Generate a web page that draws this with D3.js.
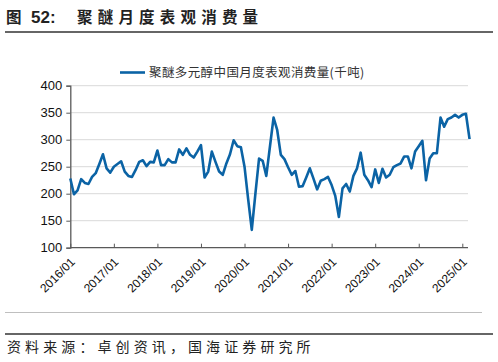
<!DOCTYPE html>
<html>
<head>
<meta charset="utf-8">
<script src="https://cdn.jsdelivr.net/npm/d3@7/dist/d3.min.js"></script>
<style>
  body { margin: 0; background: #fff; }
  svg { display: block; }
</style>
</head>
<body>
<svg width="498" height="362"></svg>
<script>
// monthly apparent consumption of polyether polyol, 2016/01 .. 2025/03 (kt)
var consumption = [
  228, 199, 206, 227, 220, 218, 231, 238, 255, 273, 247, 239,
  250, 255, 260, 241, 233, 231, 244, 259, 262, 251, 259, 258,
  280, 253, 253, 264, 258, 258, 282, 272, 284, 272, 267, 278,
  290, 230, 241, 278, 259, 241, 235, 256, 273, 299, 288, 286,
  250, 190, 133, 200, 265, 261, 233, 287, 341, 318, 272, 264,
  249, 235, 242, 213, 214, 230, 247, 228, 208, 224, 227, 231,
  216, 196, 157, 210, 218, 204, 233, 247, 276, 235, 225, 212,
  245, 220, 246, 230, 235, 249, 253, 256, 269, 269, 247, 278,
  288, 298, 225, 265, 275, 275, 341, 324, 338, 341, 346, 341,
  346, 348, 301
];
var yearLabels = ["2016/01", "2017/01", "2018/01", "2019/01", "2020/01",
                  "2021/01", "2022/01", "2023/01", "2024/01", "2025/01"];
var yTicks = [100, 150, 200, 250, 300, 350, 400];

var seriesName = "聚醚多元醇中国月度表观消费量(千吨)";
var titleText = "聚醚月度表观消费量";
var sourceText = "资料来源：卓创资讯，国海证券研究所";

var svg = d3.select("svg");
var blue = "#0b63a5";
var cjk = "'Noto Sans CJK SC', 'Liberation Sans', sans-serif";

var x = d3.scaleLinear().domain([0, 108]).range([70.3, 462.3]);
var y = d3.scaleLinear().domain([100, 400]).range([247.7, 85.7]);

// title
var title = svg.append("text")
  .attr("y", 23)
  .attr("font-family", cjk)
  .attr("font-weight", "bold")
  .attr("font-size", "15.5px")
  .attr("fill", "#222");
title.append("tspan").attr("x", 6).text("图");
title.append("tspan").attr("x", 31).attr("font-family", "'Liberation Sans', Arial, sans-serif")
  .attr("font-size", "17px").text("52:");
title.append("tspan").attr("x", 77).attr("letter-spacing", "5.2px").text(titleText);

svg.append("line").attr("x1", 5).attr("x2", 493).attr("y1", 32).attr("y2", 32)
  .attr("stroke", "#333").attr("stroke-width", 1.5);

// gridlines
svg.append("g").selectAll("line")
  .data(yTicks.slice(1))
  .enter().append("line")
  .attr("x1", x(0)).attr("x2", 468)
  .attr("y1", function(d) { return y(d); })
  .attr("y2", function(d) { return y(d); })
  .attr("stroke", "#d9d9d9").attr("stroke-width", 1);

// y axis
var yAxis = svg.append("g")
  .attr("transform", "translate(" + x(0) + ",0)")
  .call(d3.axisLeft(y).tickValues(yTicks).tickSize(4).tickPadding(4));
yAxis.select(".domain").attr("stroke", "#595959").attr("stroke-width", 1.3);
yAxis.selectAll(".tick line").attr("stroke", "#595959");
yAxis.selectAll("text")
  .attr("font-family", "'Liberation Sans', Arial, sans-serif")
  .attr("font-size", "13px")
  .attr("fill", "#111");

// x axis
var xAxis = svg.append("g")
  .attr("transform", "translate(0," + y(100) + ")")
  .call(d3.axisBottom(x)
    .tickValues(d3.range(0, 109, 12))
    .tickFormat(function(d) { return yearLabels[d / 12]; })
    .tickSizeInner(-4).tickSizeOuter(0));
xAxis.select(".domain").attr("d", "M" + x(0) + ",0H468")
  .attr("stroke", "#595959").attr("stroke-width", 1.3);
xAxis.selectAll(".tick line").attr("stroke", "#595959");
xAxis.selectAll("text")
  .attr("font-family", "'Liberation Sans', Arial, sans-serif")
  .attr("font-size", "12px")
  .attr("fill", "#111")
  .attr("text-anchor", "end")
  .attr("dy", "0.35em")
  .attr("transform", "translate(2,12) rotate(-45)")
  .attr("y", 0);

// series line
var line = d3.line()
  .x(function(d, i) { return x(i); })
  .y(function(d) { return y(d); });

svg.append("path")
  .datum(consumption)
  .attr("d", line)
  .attr("fill", "none")
  .attr("stroke", blue)
  .attr("stroke-width", 2.6)
  .attr("stroke-linejoin", "round");

// legend
svg.append("line").attr("x1", 120).attr("x2", 145).attr("y1", 72.5).attr("y2", 72.5)
  .attr("stroke", blue).attr("stroke-width", 2.6);
svg.append("text")
  .attr("x", 149).attr("y", 77)
  .attr("font-family", cjk)
  .attr("font-size", "12.5px")
  .attr("letter-spacing", "0.4px")
  .attr("fill", "#333")
  .text(seriesName);

// footer
svg.append("line").attr("x1", 5).attr("x2", 482).attr("y1", 312.5).attr("y2", 312.5)
  .attr("stroke", "#bfbfbf").attr("stroke-width", 1);
svg.append("line").attr("x1", 5).attr("x2", 493).attr("y1", 334).attr("y2", 334)
  .attr("stroke", "#333").attr("stroke-width", 1.5);
svg.append("text")
  .attr("x", 7).attr("y", 352)
  .attr("font-family", cjk)
  .attr("font-size", "14px")
  .attr("letter-spacing", "4.1px")
  .attr("fill", "#222")
  .text(sourceText);
</script>
</body>
</html>
